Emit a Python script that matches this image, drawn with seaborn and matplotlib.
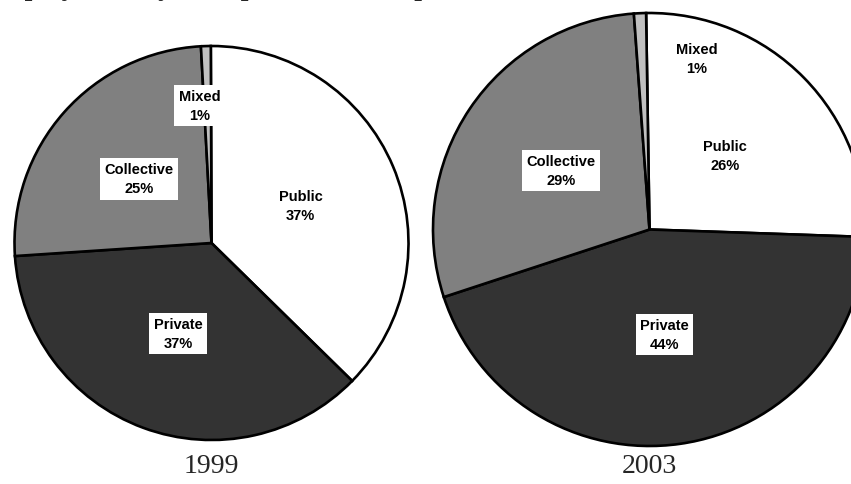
import matplotlib
matplotlib.use("Agg")
import matplotlib.pyplot as plt
import seaborn as sns
import numpy as np

# ---- data ----
categories = ["Public", "Private", "Collective", "Mixed"]
years = ["1999", "2003"]
shares_1999 = [37.4, 36.6, 25.2, 0.8]
shares_2003 = [25.8, 44.4, 28.9, 0.9]
title = "Employment by enterprise ownership, rural and cities"

colors = ["#ffffff", "#333333", "#808080", "#c0c0c0"]

sns.set_theme(style="white")
plt.rcParams["font.family"] = ["Liberation Sans", "DejaVu Sans"]

W, H = 851, 485
fig = plt.figure(figsize=(W / 100, H / 100), dpi=100)

# (values, centre x px, centre y px, radius px, start angle, mixed label radius, mixed angle offset)
specs = [
    (shares_1999, 211.5, 244, 197, 90.2, 0.70, 3.4),
    (shares_2003, 649.5, 230.5, 216.5, 90.9, 0.82, -18.0),
]

for (vals, cx, cy, R, start, mr, moff), year in zip(specs, years):
    ax = fig.add_axes([(cx - R) / W, (H - cy - R) / H, 2 * R / W, 2 * R / H])
    wedges, _ = ax.pie(vals, colors=colors, startangle=start, counterclock=False,
                       radius=1, frame=False,
                       wedgeprops=dict(edgecolor="black", linewidth=1.9))
    for w in wedges:
        w.set_clip_on(False)
    ax.set_xlim(-1, 1)
    ax.set_ylim(-1, 1)
    ax.set_axis_off()
    for cat, v, w in zip(categories, vals, wedges):
        mid = (w.theta1 + w.theta2) / 2
        r, off = (mr, moff) if cat == "Mixed" else (0.49, 0.0)
        a = np.radians(mid + off)
        ax.text(r * np.cos(a), r * np.sin(a), f"{cat}\n{round(v)}%",
                ha="center", va="center", fontsize=10.5, fontweight="bold",
                linespacing=1.45, color="black",
                bbox=dict(facecolor="white", edgecolor="none",
                          boxstyle="square,pad=0.3"))
    fig.text(cx / W, (H - 467) / H, year, ha="center", va="center",
             fontsize=20, family=["Liberation Serif", "DejaVu Serif"])

fig.text(-17 / W, 1 + 5 / H, title, ha="left", va="baseline", fontsize=20,
         fontweight="bold", family=["Liberation Serif", "DejaVu Serif"])

fig.savefig("out.png", dpi=100, facecolor="white")
